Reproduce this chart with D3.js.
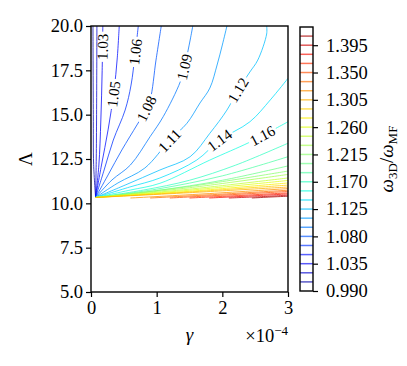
<!DOCTYPE html>
<html>
<head>
<meta charset="utf-8">
<script src="https://cdn.jsdelivr.net/npm/d3@7"></script>
<style>
  body { margin: 0; background: #fff; }
  text { font-family: 'DejaVu Serif', 'Liberation Serif', serif; fill: #000; }
</style>
</head>
<body>
<div id="app"></div>
<script>
'use strict'

const FONT = "'Liberation Serif', 'Times New Roman', 'DejaVu Serif', serif"

// contour levels (omega_3D / omega_MF)
const levels = [1.005, 1.02, 1.035, 1.05, 1.065, 1.08, 1.095, 1.11, 1.125, 1.14,
  1.155, 1.17, 1.185, 1.2, 1.215, 1.23, 1.245, 1.26, 1.275, 1.29,
  1.305, 1.32, 1.335, 1.35, 1.365, 1.38, 1.395, 1.41]

// contour paths, [gamma (x1e-4), Lambda], one per level
const lines = [
  [[0.07, 10.33], [0.04, 12.2], [0.035, 15], [0.03, 20]],
  [[0.07, 10.33], [0.08, 12.5], [0.085, 15], [0.09, 20]],
  [[0.07, 10.33], [0.12, 12.16], [0.15, 14.7], [0.17, 17.5], [0.18, 20]],
  [[0.07, 10.33], [0.16, 12.16], [0.26, 14.14], [0.35, 16.33], [0.4, 18.2], [0.43, 20]],
  [[0.07, 10.33], [0.2, 11.88], [0.34, 13.57], [0.52, 15.26], [0.61, 16.67], [0.67, 18.37], [0.72, 20]],
  [[0.07, 10.33], [0.26, 11.6], [0.47, 13.01], [0.7, 14.42], [0.82, 15.17], [0.9, 15.83], [0.99, 18.08], [1.07, 20]],
  [[0.07, 10.33], [0.32, 11.32], [0.6, 12.16], [0.9, 13.76], [1.1, 14.89], [1.36, 16.86], [1.43, 17.8], [1.51, 19.21], [1.55, 20]],
  [[0.07, 10.33], [0.41, 11.15], [0.82, 11.99], [1.2, 13.57], [1.46, 14.51], [1.66, 15.66], [1.81, 16.5], [1.92, 17.8], [2.0, 18.93], [2.07, 20]],
  [[0.07, 10.33], [0.52, 11.03], [1.05, 11.88], [1.51, 12.63], [1.81, 13.95], [2.07, 15.26], [2.24, 16.39], [2.42, 17.41], [2.54, 18.08], [2.675, 19.55], [2.675, 20]],
  [[0.07, 10.33], [0.59, 10.92], [1.05, 11.43], [1.61, 12.44], [1.96, 13.57], [2.42, 14.6], [2.73, 15.83], [3.0, 17.05]],
  [[0.07, 10.33], [0.6, 10.75], [1.05, 11.13], [1.81, 12.44], [2.39, 13.4], [2.6, 13.8], [3.0, 14.6]],
  [[0.07, 10.33], [0.8, 10.75], [1.5, 11.3], [2.2, 12.15], [3.0, 13.39]],
  [[0.07, 10.33], [1.0, 10.8], [2.0, 11.55], [3.0, 12.63]],
  [[0.07, 10.33], [1.0, 10.72], [2.0, 11.3], [3.0, 12.11]],
  [[0.07, 10.33], [1.5, 10.95], [3.0, 11.82]],
  [[0.07, 10.33], [1.5, 10.88], [3.0, 11.63]],
  [[0.07, 10.33], [1.5, 10.8], [3.0, 11.43]],
  [[0.07, 10.33], [1.5, 10.74], [3.0, 11.29]],
  [[0.07, 10.33], [1.5, 10.68], [3.0, 11.15]],
  [[0.07, 10.33], [1.5, 10.64], [3.0, 11.03]],
  [[0.07, 10.33], [1.5, 10.6], [3.0, 10.92]],
  [[0.6, 10.3], [1.8, 10.55], [3.0, 10.83]],
  [[0.9, 10.3], [2.0, 10.52], [3.0, 10.74]],
  [[1.2, 10.3], [2.1, 10.48], [3.0, 10.67]],
  [[1.5, 10.3], [2.3, 10.45], [3.0, 10.59]],
  [[1.8, 10.3], [2.4, 10.41], [3.0, 10.53]],
  [[2.1, 10.3], [2.6, 10.38], [3.0, 10.46]],
  [[2.45, 10.3], [2.7, 10.35], [3.0, 10.4]]
]

// inline contour labels
const labelLevels = [1.035, 1.05, 1.065, 1.08, 1.095, 1.11, 1.125, 1.14, 1.155]
const labelTexts = ['1.03', '1.05', '1.06', '1.08', '1.09', '1.11', '1.12', '1.14', '1.16']
const labelAt = [[0.18, 18.83], [0.34, 16.17], [0.68, 18.53], [0.83, 15.38], [1.41, 17.69],
  [1.22, 13.46], [2.24, 16.39], [1.98, 13.46], [2.61, 13.8]]

const xTicks = [0, 1, 2, 3]
const yTicks = [5, 7.5, 10, 12.5, 15, 17.5, 20]
const cbTicks = [0.990, 1.035, 1.080, 1.125, 1.170, 1.215, 1.260, 1.305, 1.350, 1.395]
const cbRange = [0.99, 1.425]

const W = 407, H = 366
const plot = { left: 91, right: 288, top: 26, bottom: 292 }
const cb = { left: 300, right: 313 }

const svg = d3.select('#app').append('svg')
  .attr('width', W).attr('height', H)
  .style('font-family', FONT)

const x = d3.scaleLinear().domain([0, 3]).range([plot.left, plot.right])
const y = d3.scaleLinear().domain([5, 20]).range([plot.bottom, plot.top])

// matplotlib 'jet'
const jr = d3.scaleLinear([0, 0.35, 0.66, 0.89, 1], [0, 0, 1, 1, 0.5]).clamp(true)
const jg = d3.scaleLinear([0, 0.125, 0.375, 0.64, 0.91, 1], [0, 0, 1, 1, 0, 0]).clamp(true)
const jb = d3.scaleLinear([0, 0.11, 0.34, 0.65, 1], [0.5, 1, 1, 0, 0]).clamp(true)
const norm = d3.scaleLinear().domain(cbRange).range([0, 1])
const jet = v => {
  const t = norm(v)
  return d3.rgb(255 * jr(t), 255 * jg(t), 255 * jb(t)).formatHex()
}

const defs = svg.append('defs')
defs.append('clipPath').attr('id', 'clip')
  .append('rect')
  .attr('x', plot.left).attr('y', plot.top)
  .attr('width', plot.right - plot.left).attr('height', plot.bottom - plot.top)

const line = d3.line()
  .x(d => x(d[0]))
  .y(d => y(d[1]))
  .curve(d3.curveCatmullRom.alpha(0.5))

const g = svg.append('g').attr('clip-path', 'url(#clip)')

const paths = g.selectAll('.contour')
  .data(lines)
  .enter().append('path')
  .attr('class', 'contour')
  .attr('d', line)
  .attr('fill', 'none')
  .attr('stroke', (d, i) => jet(levels[i]))
  .attr('stroke-width', 0.9)
  .attr('stroke-opacity', 0.85)

// labels with the line broken beneath them
const labelLayer = svg.append('g')
labelLevels.forEach((lv, k) => {
  const idx = levels.indexOf(lv)
  const node = paths.nodes()[idx]
  const total = node.getTotalLength()
  const tx = x(labelAt[k][0]), ty = y(labelAt[k][1])
  let best = 0, bestD = Infinity
  for (let l = 0; l <= total; l += 0.5) {
    const p = node.getPointAtLength(l)
    const dd = (p.x - tx) ** 2 + (p.y - ty) ** 2
    if (dd < bestD) { bestD = dd; best = l }
  }
  const p = node.getPointAtLength(best)
  const p0 = node.getPointAtLength(Math.max(0, best - 6))
  const p1 = node.getPointAtLength(Math.min(total, best + 6))
  let ang = Math.atan2(p1.y - p0.y, p1.x - p0.x) * 180 / Math.PI
  if (ang > 90) ang -= 180
  if (ang < -90) ang += 180

  const t = labelLayer.append('text')
    .attr('transform', `translate(${p.x},${p.y}) rotate(${ang})`)
    .attr('text-anchor', 'middle')
    .attr('dy', '0.35em')
    .style('font-family', FONT)
    .style('font-size', '15px')
    .text(labelTexts[k])
  const len = t.node().getComputedTextLength()

  const m = defs.append('mask').attr('id', 'mask' + idx)
    .attr('maskUnits', 'userSpaceOnUse')
    .attr('x', 0).attr('y', 0).attr('width', W).attr('height', H)
  m.append('rect').attr('width', W).attr('height', H).attr('fill', '#fff')
  m.append('rect')
    .attr('transform', `translate(${p.x},${p.y}) rotate(${ang})`)
    .attr('x', -len / 2 - 2).attr('y', -6)
    .attr('width', len + 4).attr('height', 12)
    .attr('fill', '#000')
  d3.select(node).attr('mask', `url(#mask${idx})`)
})

// axes
const xAxis = svg.append('g')
  .attr('transform', `translate(0,${plot.bottom})`)
  .call(d3.axisBottom(x).tickValues(xTicks).tickFormat(d3.format('d')).tickSize(5).tickPadding(4))
const yAxis = svg.append('g')
  .attr('transform', `translate(${plot.left},0)`)
  .call(d3.axisLeft(y).tickValues(yTicks).tickFormat(d3.format('.1f')).tickSize(5).tickPadding(3))

;[xAxis, yAxis].forEach(a => {
  a.attr('font-family', null)
  a.select('.domain').remove()
  a.selectAll('.tick line').attr('stroke', '#000').attr('stroke-width', 1.2)
  a.selectAll('.tick text').style('font-size', '18.5px').style('font-family', FONT)
})

svg.append('rect')
  .attr('x', plot.left).attr('y', plot.top)
  .attr('width', plot.right - plot.left).attr('height', plot.bottom - plot.top)
  .attr('fill', 'none').attr('stroke', '#000').attr('stroke-width', 1.4)

// axis labels
svg.append('text')
  .attr('x', (plot.left + plot.right) / 2).attr('y', 341)
  .attr('text-anchor', 'middle')
  .style('font-family', FONT)
  .style('font-size', '19px').style('font-style', 'italic')
  .text('γ')

const off = svg.append('text')
  .attr('x', plot.right).attr('y', 341.5)
  .attr('text-anchor', 'end')
  .style('font-family', FONT)
  .style('font-size', '18.5px')
off.append('tspan').text('×10')
off.append('tspan').attr('dy', -7).style('font-size', '13px').text('−4')

svg.append('text')
  .attr('transform', `translate(31.5,${(plot.top + plot.bottom) / 2}) rotate(-90)`)
  .attr('text-anchor', 'middle')
  .style('font-family', FONT)
  .style('font-size', '19px')
  .text('Λ')

// colorbar
const cy = d3.scaleLinear().domain(cbRange).range([plot.bottom - 1, plot.top + 1])

svg.append('g').selectAll('.cbline')
  .data(levels)
  .enter().append('line')
  .attr('class', 'cbline')
  .attr('x1', cb.left).attr('x2', cb.right)
  .attr('y1', d => cy(d)).attr('y2', d => cy(d))
  .attr('stroke', d => jet(d))
  .attr('stroke-width', 1.5)
  .attr('opacity', 0.65)

svg.append('rect')
  .attr('x', cb.left).attr('y', cy.range()[1])
  .attr('width', cb.right - cb.left).attr('height', cy.range()[0] - cy.range()[1])
  .attr('fill', 'none').attr('stroke', '#000').attr('stroke-width', 1.4)

const cbAxis = svg.append('g')
  .attr('transform', `translate(${cb.right},0)`)
  .call(d3.axisRight(cy).tickValues(cbTicks).tickFormat(d3.format('.3f')).tickSize(5).tickPadding(8))
cbAxis.attr('font-family', null)
cbAxis.select('.domain').remove()
cbAxis.selectAll('.tick line').attr('stroke', '#000').attr('stroke-width', 1.2)
cbAxis.selectAll('.tick text').style('font-size', '18.5px').style('font-family', FONT)

const cbl = svg.append('text')
  .attr('transform', `translate(393,${(plot.top + plot.bottom) / 2}) rotate(-90)`)
  .attr('text-anchor', 'middle')
  .style('font-family', FONT)
  .style('font-size', '19px')
cbl.append('tspan').style('font-style', 'italic').text('ω')
cbl.append('tspan').attr('dy', 4).style('font-size', '13px').text('3D')
cbl.append('tspan').attr('dy', -4).text('/')
cbl.append('tspan').style('font-style', 'italic').text('ω')
cbl.append('tspan').attr('dy', 4).style('font-size', '13px').text('MF')
</script>
</body>
</html>
